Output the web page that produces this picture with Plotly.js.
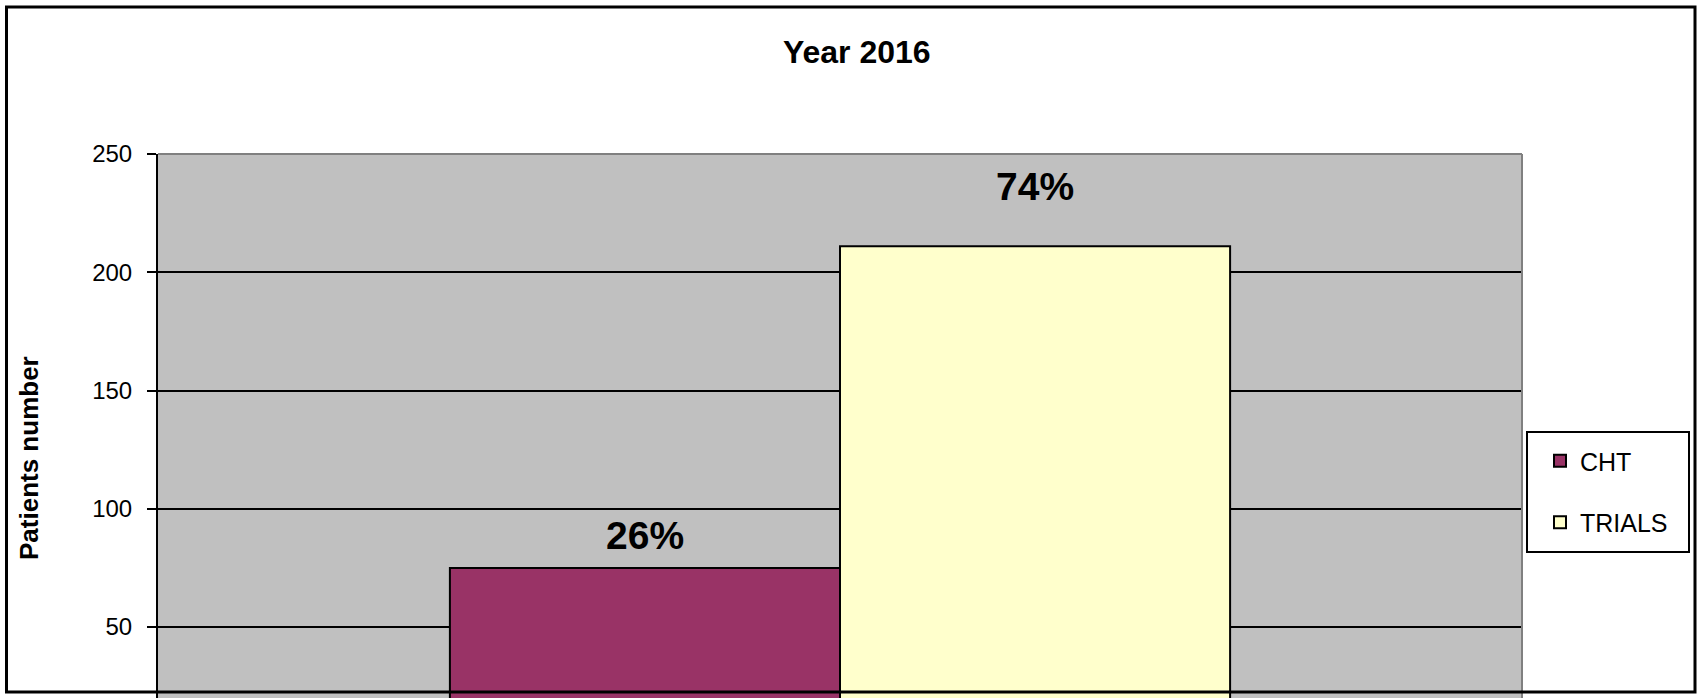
<!DOCTYPE html>
<html>
<head>
<meta charset="utf-8">
<script src="https://cdn.plot.ly/plotly-3.0.1.min.js"></script>
<style>html,body{margin:0;padding:0;background:#fff;}#chart{width:1700px;height:698px;}</style>
</head>
<body>
<div id="chart"></div>
<script>
// ---- data ----
const categories = ['2016'];
const seriesNames = ['CHT', 'TRIALS'];
const chtValues = [75];
const trialsValues = [211];
const percentLabels = ['26%', '74%'];
const labelHeights = [88.6, 236.2]; // y positions (data units) of the % labels
const yTickVals = [50, 100, 150, 200, 250];
const yTitle = 'Patients number';

const FONT = 'Arial, "Liberation Sans", sans-serif';
const W = 1700, H = 698;
const L = 158, R = 1522, T = 154, B = 698;
const pw = R - L, ph = B - T;
const px = x => (x - L) / pw;
const py = y => (B - y) / ph;

const traces = [
  {type: 'bar', name: seriesNames[0], x: categories, y: chtValues, legendgroup: 'a',
   marker: {color: '#993366', line: {color: '#000', width: 2}}, hoverinfo: 'none'},
  {type: 'bar', name: seriesNames[1], x: categories, y: trialsValues, legendgroup: 'b',
   marker: {color: '#FFFFCC', line: {color: '#000', width: 2}}, hoverinfo: 'none'}
];

const barGap = 0.428;
const half = (1 - barGap) / 4;
const annotations = percentLabels.map((t, i) => ({
  x: i === 0 ? -half : half, y: labelHeights[i], xref: 'x', yref: 'y',
  text: t, showarrow: false, xanchor: 'center', yanchor: 'middle',
  font: {family: FONT, size: 39, color: '#000', weight: 'bold'}
}));
annotations.push({
  x: px(29), y: py(458), xref: 'paper', yref: 'paper', text: yTitle, textangle: -90,
  showarrow: false, xanchor: 'center', yanchor: 'middle',
  font: {family: FONT, size: 26, color: '#000', weight: 'bold'}
});

const shapes = [
  // plot area gray frame (top & right)
  {type: 'line', xref: 'paper', yref: 'paper', x0: 0, x1: 1, y0: 1, y1: 1, line: {color: '#808080', width: 2}},
  {type: 'line', xref: 'paper', yref: 'paper', x0: 1, x1: 1, y0: 0, y1: 1, line: {color: '#808080', width: 2}},
  // legend box
  {type: 'rect', xref: 'paper', yref: 'paper', x0: px(1527), x1: px(1689), y0: py(552), y1: py(432),
   line: {color: '#000', width: 2}, fillcolor: '#fff', layer: 'above'},
  // outer chart border
  {type: 'rect', xref: 'paper', yref: 'paper', x0: px(6.5), x1: px(1695), y0: py(692), y1: py(7),
   line: {color: '#000', width: 3}, fillcolor: 'rgba(0,0,0,0)', layer: 'above'}
];

const layout = {
  width: W, height: H,
  paper_bgcolor: '#fff', plot_bgcolor: '#C0C0C0',
  margin: {l: L, r: W - R, t: T, b: H - B, autoexpand: false},
  font: {family: FONT, color: '#000'},
  title: {text: 'Year 2016', x: 0.504, xanchor: 'center', y: (H - 52) / H, yanchor: 'middle',
          font: {family: FONT, size: 32, color: '#000', weight: 'bold'}},
  barmode: 'group', bargap: barGap, bargroupgap: 0,
  showlegend: true,
  legend: {x: px(1540), xanchor: 'left', y: py(438), yanchor: 'top', bgcolor: 'rgba(0,0,0,0)',
           borderwidth: 0, font: {family: FONT, size: 25, color: '#000'},
           traceorder: 'grouped', tracegroupgap: 26},
  xaxis: {type: 'category', showticklabels: false, ticks: '', showline: false, showgrid: false,
          zeroline: false, range: [-0.5, 0.5], fixedrange: true},
  yaxis: {range: [20, 250], tickvals: yTickVals, ticks: 'outside', ticklen: 9, tickwidth: 2, tickcolor: '#000',
          ticklabelstandoff: 10,
          showline: true, linecolor: '#000', linewidth: 2, showgrid: true, gridcolor: '#000', gridwidth: 2,
          zeroline: false, tickfont: {family: FONT, size: 24, color: '#000'}},
  annotations: annotations,
  shapes: shapes
};

Plotly.newPlot('chart', traces, layout, {displayModeBar: false, staticPlot: true});
</script>
</body>
</html>
